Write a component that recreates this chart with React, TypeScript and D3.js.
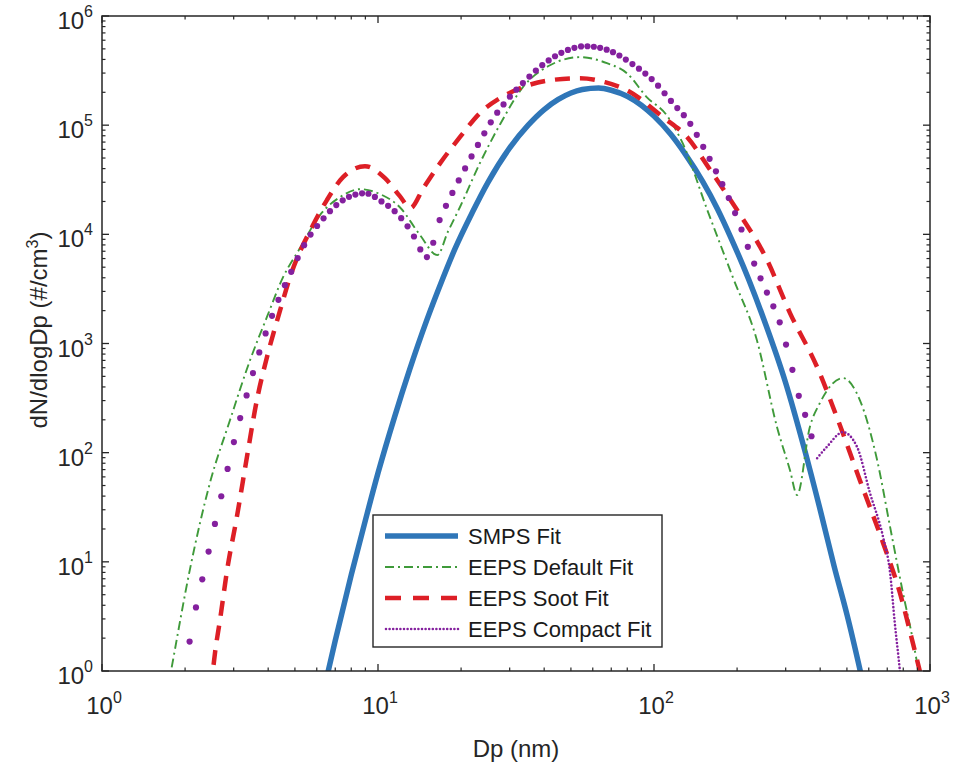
import React, { useEffect, useRef, useState } from 'react';
import * as d3 from 'd3';

const W = 953;
const H = 764;
const PLOT = { left: 102, right: 930, top: 16, bottom: 671 };

const xTickExps = [0, 1, 2, 3];
const yTickExps = [0, 1, 2, 3, 4, 5, 6];

const legendLabels = ['SMPS Fit', 'EEPS Default Fit', 'EEPS Soot Fit', 'EEPS Compact Fit'];

// SMPS Fit
const smpsDp = [6, 7, 8, 9, 10, 11.5, 13, 15, 17, 19, 22, 25, 30, 35, 40, 45, 50, 55, 63, 70, 80, 90, 100, 115, 130, 150, 170, 190, 220, 250, 300, 350, 400, 450, 500, 600];
const smpsN = [0.35, 1.9, 7.6, 24, 65, 215, 570, 1620, 3700, 7350, 16000, 29800, 62000, 100000, 139000, 172000, 197000, 212000, 219000, 209000, 184000, 152000, 121000, 82400, 54000, 30500, 17000, 9300, 3900, 1670, 435, 110, 30, 9, 3.3, 0.45];

// EEPS Default Fit
const defaultDp = [1.69, 1.79, 2.08, 2.46, 2.91, 3.44, 3.96, 4.53, 5.22, 6.16, 7.28, 8.6, 10.2, 12.0, 14.2, 16.4, 17.9, 19.8, 23.4, 27.7, 33.5, 42.0, 53.9, 67.5, 79.8, 94.3, 111, 127, 156, 193, 236, 279, 311, 330, 367, 399, 484, 557, 643, 717, 798, 867, 920];
const defaultN = [0.49, 1.09, 8.4, 52.7, 199, 705, 1750, 4050, 7480, 15000, 21900, 25900, 23300, 17700, 9840, 6450, 10500, 17700, 44900, 102000, 223000, 354000, 420000, 370000, 299000, 180000, 124000, 68400, 16700, 4050, 1070, 172, 69, 41, 172, 285, 482, 303, 86, 20.8, 5.2, 1.92, 0.83];

// EEPS Soot Fit
const sootDp = [2.48, 2.57, 2.68, 2.84, 3.08, 3.35, 3.64, 3.96, 4.42, 4.80, 5.81, 6.53, 7.47, 8.97, 10.6, 12.0, 13.1, 14.6, 16.8, 19.8, 23.4, 27.7, 32.7, 42.0, 53.9, 66.4, 79.8, 108, 132, 160, 200, 257, 311, 390, 464, 557, 676, 778, 867, 935];
const sootN = [0.67, 1.5, 3.0, 8.4, 25.7, 91, 303, 750, 2020, 4050, 12100, 20600, 33400, 42100, 32700, 22400, 17400, 26500, 44900, 77600, 129000, 177000, 218000, 258000, 269000, 248000, 209000, 118000, 77600, 38700, 16700, 5800, 1900, 608, 199, 56, 14.9, 5.2, 1.8, 0.83];

// EEPS Compact Fit (main part, drawn with large markers)
const compactDp = [1.97, 2.03, 2.17, 2.36, 2.57, 2.79, 3.03, 3.32, 3.64, 4.0, 4.49, 4.8, 5.53, 6.27, 7.28, 8.97, 10.4, 11.7, 13.1, 15.1, 16.6, 18.5, 20.8, 23.2, 25.9, 29.3, 33.5, 38.6, 44.5, 50.9, 56.2, 62.1, 71.0, 83.9, 99.1, 117, 135, 151, 169, 188, 208, 228, 257, 286, 311, 338, 358, 390];
const compactN = [0.67, 1.26, 3.4, 8.8, 22.7, 56, 136, 316, 705, 1440, 3000, 4300, 8850, 13500, 19700, 23800, 19700, 15600, 10900, 6180, 12900, 23300, 41200, 68400, 111000, 169000, 243000, 340000, 438000, 507000, 529000, 518000, 466000, 360000, 258000, 159000, 104000, 62900, 36300, 20600, 10900, 5800, 2900, 1540, 705, 303, 199, 89];
// EEPS Compact Fit (coarse mode tail)
const compactTailDp = [390, 423, 484, 544, 606, 676, 717, 745, 778, 798];
const compactTailN = [89, 113, 154, 113, 42.7, 16.9, 7.9, 2.8, 1.0, 0.5];

const COLORS = {
  smps: '#2f76b8',
  def: '#3f9a3a',
  soot: '#dd1f26',
  compact: '#84209e',
  axis: '#262626',
};

const FONT = '"Liberation Sans", Arial, Helvetica, sans-serif';

function zip(a: number[], b: number[]): [number, number][] {
  return a.map((v, i) => [v, b[i]]);
}

export default function App() {
  const x = d3.scaleLog().domain([1, 1000]).range([PLOT.left, PLOT.right]);
  const y = d3.scaleLog().domain([1, 1e6]).range([PLOT.bottom, PLOT.top]);
  const line = d3
    .line<[number, number]>()
    .x((d) => x(d[0]))
    .y((d) => y(d[1]))
    .curve(d3.curveMonotoneX);

  const compactRef = useRef<SVGPathElement>(null);
  const [dots, setDots] = useState<[number, number][]>([]);

  useEffect(() => {
    const p = compactRef.current;
    if (!p) return;
    const L = p.getTotalLength();
    const out: [number, number][] = [];
    let next = -Infinity;
    for (let l = 0; l <= L; l += 0.4) {
      const q = p.getPointAtLength(l);
      if (q.x >= next) {
        out.push([q.x, q.y]);
        next = q.x + 6.3;
      }
    }
    setDots(out);
  }, []);

  const xMinor: number[] = [];
  for (let e = 0; e < 3; e++) for (let k = 2; k <= 9; k++) xMinor.push(k * Math.pow(10, e));
  const yMinor: number[] = [];
  for (let e = 0; e < 6; e++) for (let k = 2; k <= 9; k++) yMinor.push(k * Math.pow(10, e));

  const majorLen = 7;
  const minorLen = 3.5;

  const legendX = 373;
  const legendY = 515;
  const legendW = 289;
  const legendH = 132;
  const rowY = (i: number) => legendY + 21 + i * 31;
  const sampleX0 = 385;
  const sampleX1 = 458;

  return (
    <svg
      width={W}
      height={H}
      style={{ position: 'absolute', left: 0, top: 0, background: '#fff', display: 'block' }}
      fontFamily={FONT}
    >
      <rect x={0} y={0} width={W} height={H} fill="#fff" />
      <defs>
        <clipPath id="plotClip">
          <rect x={PLOT.left} y={PLOT.top} width={PLOT.right - PLOT.left} height={PLOT.bottom - PLOT.top} />
        </clipPath>
      </defs>

      <g clipPath="url(#plotClip)">
        <path d={line(zip(smpsDp, smpsN)) || ''} fill="none" stroke={COLORS.smps} strokeWidth={5.5} strokeLinejoin="round" />
        <path
          d={line(zip(defaultDp, defaultN)) || ''}
          fill="none"
          stroke={COLORS.def}
          strokeWidth={1.9}
          strokeDasharray="9 4 2 4"
        />
        <path
          d={line(zip(sootDp, sootN)) || ''}
          fill="none"
          stroke={COLORS.soot}
          strokeWidth={4.5}
          strokeDasharray="15 10"
        />
        <path ref={compactRef} d={line(zip(compactDp, compactN)) || ''} fill="none" stroke="none" />
        {dots.map((d, i) => (
          <circle key={i} cx={d[0]} cy={d[1]} r={3.1} fill={COLORS.compact} />
        ))}
        <path
          d={line(zip(compactTailDp, compactTailN)) || ''}
          fill="none"
          stroke={COLORS.compact}
          strokeWidth={2.6}
          strokeLinecap="round"
          strokeDasharray="0 3.6"
        />
      </g>

      {/* axes box */}
      <rect
        x={PLOT.left}
        y={PLOT.top}
        width={PLOT.right - PLOT.left}
        height={PLOT.bottom - PLOT.top}
        fill="none"
        stroke={COLORS.axis}
        strokeWidth={1.5}
      />

      {/* x ticks */}
      {xTickExps.map((e) => {
        const px = x(Math.pow(10, e));
        return (
          <g key={'xt' + e}>
            <line x1={px} x2={px} y1={PLOT.bottom} y2={PLOT.bottom - majorLen} stroke={COLORS.axis} strokeWidth={1.3} />
            <line x1={px} x2={px} y1={PLOT.top} y2={PLOT.top + majorLen} stroke={COLORS.axis} strokeWidth={1.3} />
            <text x={px + 2} y={714} textAnchor="middle" fontSize={24} fill={COLORS.axis}>
              10
              <tspan dy={-11} fontSize={16}>
                {e}
              </tspan>
            </text>
          </g>
        );
      })}
      {xMinor.map((v, i) => {
        const px = x(v);
        return (
          <g key={'xm' + i}>
            <line x1={px} x2={px} y1={PLOT.bottom} y2={PLOT.bottom - minorLen} stroke={COLORS.axis} strokeWidth={1.2} />
            <line x1={px} x2={px} y1={PLOT.top} y2={PLOT.top + minorLen} stroke={COLORS.axis} strokeWidth={1.2} />
          </g>
        );
      })}

      {/* y ticks */}
      {yTickExps.map((e) => {
        const py = y(Math.pow(10, e));
        return (
          <g key={'yt' + e}>
            <line x1={PLOT.left} x2={PLOT.left + majorLen} y1={py} y2={py} stroke={COLORS.axis} strokeWidth={1.3} />
            <line x1={PLOT.right} x2={PLOT.right - majorLen} y1={py} y2={py} stroke={COLORS.axis} strokeWidth={1.3} />
            <text x={93} y={py + 13} textAnchor="end" fontSize={24} fill={COLORS.axis}>
              10
              <tspan dy={-12} fontSize={16}>
                {e}
              </tspan>
            </text>
          </g>
        );
      })}
      {yMinor.map((v, i) => {
        const py = y(v);
        return (
          <g key={'ym' + i}>
            <line x1={PLOT.left} x2={PLOT.left + minorLen} y1={py} y2={py} stroke={COLORS.axis} strokeWidth={1.2} />
            <line x1={PLOT.right} x2={PLOT.right - minorLen} y1={py} y2={py} stroke={COLORS.axis} strokeWidth={1.2} />
          </g>
        );
      })}

      {/* axis labels */}
      <text x={516} y={757} textAnchor="middle" fontSize={24} fill={COLORS.axis}>
        Dp (nm)
      </text>
      <text transform="translate(47,330) rotate(-90)" textAnchor="middle" fontSize={24} fill={COLORS.axis}>
        dN/dlogDp (#/cm
        <tspan dy={-9} fontSize={16}>
          3
        </tspan>
        <tspan dy={9}>)</tspan>
      </text>

      {/* legend */}
      <rect x={legendX} y={legendY} width={legendW} height={legendH} fill="#fff" stroke={COLORS.axis} strokeWidth={1.4} />
      <line x1={sampleX0} x2={sampleX1} y1={rowY(0)} y2={rowY(0)} stroke={COLORS.smps} strokeWidth={5.5} />
      <line x1={sampleX0} x2={sampleX1} y1={rowY(1)} y2={rowY(1)} stroke={COLORS.def} strokeWidth={1.9} strokeDasharray="9 4 2 4" />
      <line x1={sampleX0} x2={sampleX1} y1={rowY(2)} y2={rowY(2)} stroke={COLORS.soot} strokeWidth={4.5} strokeDasharray="16 12" />
      <line
        x1={sampleX0 + 1}
        x2={sampleX1}
        y1={rowY(3)}
        y2={rowY(3)}
        stroke={COLORS.compact}
        strokeWidth={2.6}
        strokeLinecap="round"
        strokeDasharray="0 3.6"
      />
      {legendLabels.map((t, i) => (
        <text key={t} x={468} y={rowY(i) + 8} fontSize={22} fill="#1a1a1a">
          {t}
        </text>
      ))}
    </svg>
  );
}
